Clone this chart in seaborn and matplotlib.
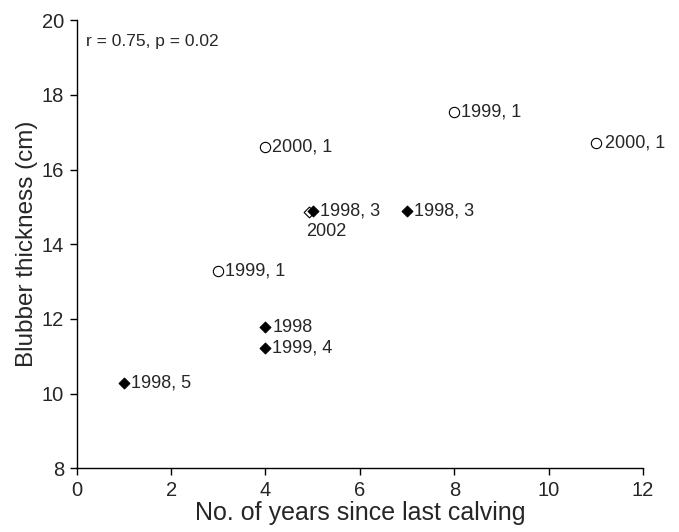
import matplotlib
matplotlib.use("Agg")
import matplotlib.pyplot as plt
import seaborn as sns
import pandas as pd

# Data
years_since_calving = [1, 3, 4, 4, 4, 4.92, 5, 7, 8, 11]
blubber_cm = [10.28, 13.28, 16.6, 11.77, 11.23, 14.85, 14.88, 14.9, 17.55, 16.72]
point_labels = ["1998, 5", "1999, 1", "2000, 1", "1998", "1999, 4", "2002", "1998, 3", "1998, 3", "1999, 1", "2000, 1"]
groups = ["filled", "open_circle", "open_circle", "filled", "filled", "open_diamond", "filled", "filled", "open_circle", "open_circle"]
x_ticks = [0, 2, 4, 6, 8, 10, 12]
y_ticks = [8, 10, 12, 14, 16, 18, 20]

df = pd.DataFrame({"x": years_since_calving, "y": blubber_cm, "label": point_labels, "group": groups})

sns.set_style("ticks")
plt.rcParams['font.family'] = ['Liberation Sans', 'DejaVu Sans']

fig = plt.figure(figsize=(6.79, 5.32), dpi=100)
ax = fig.add_axes([0.113, 0.12, 0.834, 0.842])

styles = {
    "filled": dict(marker="D", s=30, facecolor="black", edgecolor="black", linewidth=0.8),
    "open_circle": dict(marker="o", s=55, facecolor="white", edgecolor="black", linewidth=0.8),
    "open_diamond": dict(marker="D", s=30, facecolor="white", edgecolor="black", linewidth=0.8),
}
for g in ["open_diamond", "filled", "open_circle"]:
    sub = df[df.group == g]
    sns.scatterplot(data=sub, x="x", y="y", ax=ax, legend=False, zorder=3, **styles[g])

for _, r in df.iterrows():
    if r.label == "2002":
        ax.annotate(r.label, (r.x, r.y), xytext=(-2, -14), textcoords="offset points",
                    ha="left", va="center", fontsize=13)
    elif r.group == "open_circle" and r.x == 11:
        ax.annotate(r.label, (r.x, r.y), xytext=(6.5, 0), textcoords="offset points",
                    ha="left", va="center", fontsize=13)
    else:
        ax.annotate(r.label, (r.x, r.y), xytext=(5, 0), textcoords="offset points",
                    ha="left", va="center", fontsize=13)

ax.text(0.2, 19.42, "r = 0.75, p = 0.02", ha="left", va="center", fontsize=12.5)

ax.set_xlim(0, 12)
ax.set_ylim(8, 20)
ax.set_xticks(x_ticks)
ax.set_yticks(y_ticks)
ax.tick_params(axis="both", labelsize=14.5, length=5, width=1, color="black", direction="out", pad=4)
ax.set_xlabel("No. of years since last calving", fontsize=18, labelpad=1)
ax.set_ylabel("Blubber thickness (cm)", fontsize=17.5, labelpad=3)
sns.despine(ax=ax)
for sp in ["left", "bottom"]:
    ax.spines[sp].set_color("black")
    ax.spines[sp].set_linewidth(1)

fig.savefig("out.png", dpi=100)
